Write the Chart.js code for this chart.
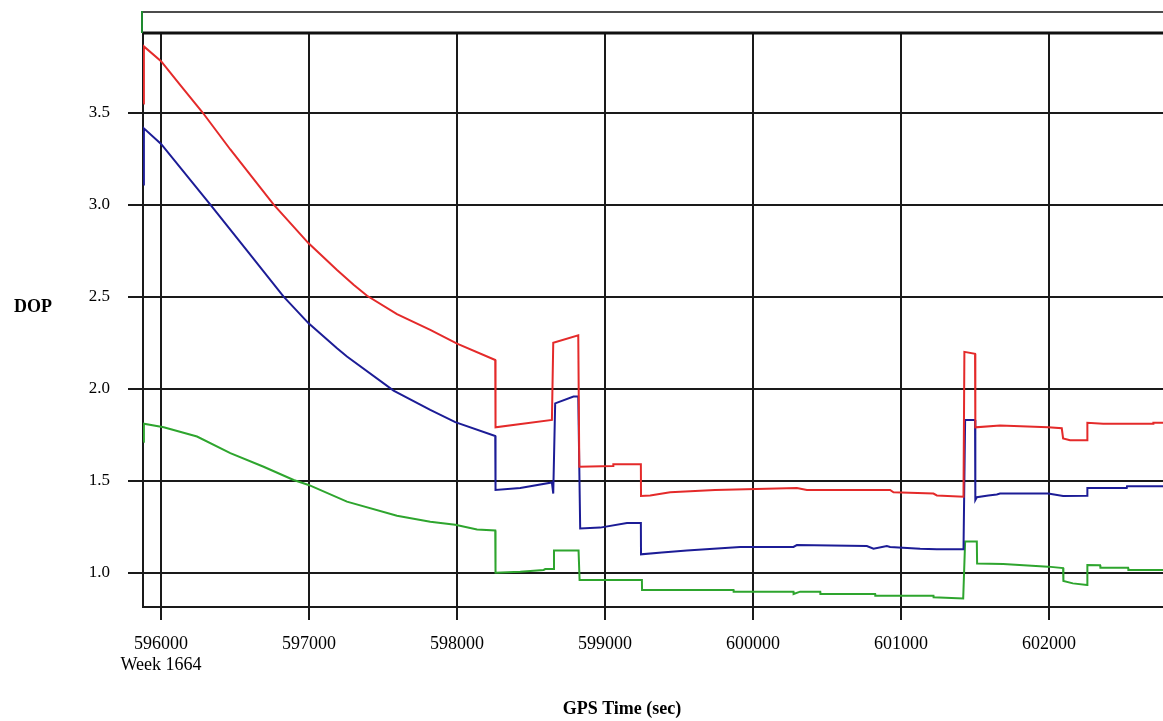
<!DOCTYPE html>
<html>
<head>
<meta charset="utf-8">
<script src="https://cdn.jsdelivr.net/npm/chart.js@4.4.1/dist/chart.umd.min.js"></script>
<style>
  body { margin: 0; background: #fff; }
  #wrap { width: 1163px; height: 721px; }
</style>
</head>
<body>
<div id="wrap"><canvas id="dopChart" width="1163" height="721"></canvas></div>
<script>
// GPS time ticks (sec) and DOP ticks
const xTicks = [596000, 597000, 598000, 599000, 600000, 601000, 602000];
const yTicks = [1.0, 1.5, 2.0, 2.5, 3.0, 3.5];

// red series
const redT = [595880, 595884, 596000, 596130, 596277, 596468, 596761, 596997, 597189, 597301, 597392, 597594, 597819, 598000, 598258,
  598260, 598641, 598650, 598819, 598826, 599055, 599056, 599242, 599243, 599305, 599440, 599743, 600296, 600364,
  600926, 600949, 601219, 601242, 601422, 601428, 601500, 601502, 601669, 601994, 602086, 602095, 602142, 602257,
  602259, 602366, 602703, 602705, 602770];
const redV = [3.55, 3.86, 3.78, 3.65, 3.505, 3.30, 3.00, 2.79, 2.645, 2.565, 2.505, 2.405, 2.32, 2.245, 2.156,
  1.79, 1.83, 2.25, 2.29, 1.576, 1.58, 1.59, 1.59, 1.417, 1.42, 1.437, 1.45, 1.46, 1.45,
  1.45, 1.437, 1.43, 1.42, 1.413, 2.20, 2.19, 1.79, 1.80, 1.79, 1.785, 1.73, 1.72, 1.72,
  1.815, 1.81, 1.81, 1.815, 1.815];

// blue series
const blueT = [595880, 595884, 596000, 596333, 596581, 596828, 596997, 597189, 597256, 597571, 597819, 597988, 598258,
  598260, 598427, 598641, 598650, 598663, 598787, 598819, 598832, 598967, 599148, 599242, 599243, 599384, 599553,
  599733, 599913, 600273, 600296, 600769, 600814, 600904, 600926, 601129, 601242, 601422, 601433, 601500, 601502,
  601512, 601590, 601647, 601669, 601994, 602095, 602257, 602259, 602525, 602527, 602770];
const blueV = [3.11, 3.415, 3.33, 3.00, 2.75, 2.50, 2.355, 2.22, 2.175, 1.99, 1.885, 1.818, 1.743,
  1.45, 1.46, 1.49, 1.43, 1.92, 1.957, 1.957, 1.24, 1.245, 1.27, 1.27, 1.10, 1.11, 1.12,
  1.13, 1.14, 1.14, 1.15, 1.145, 1.13, 1.145, 1.14, 1.13, 1.127, 1.127, 1.83, 1.83, 1.395,
  1.41, 1.42, 1.425, 1.43, 1.43, 1.417, 1.418, 1.46, 1.46, 1.47, 1.47];

// green series
const greenT = [595880, 595884, 596018, 596243, 596468, 596693, 596896, 596997, 597256, 597594, 597819, 597988, 598135,
  598258, 598260, 598427, 598585, 598596, 598652, 598655, 598821, 598828, 599249, 599250, 599868, 599869, 600273,
  600274, 600318, 600454, 600455, 600825, 600826, 601219, 601220, 601420, 601433, 601512, 601514, 601690, 601994,
  602095, 602097, 602161, 602257, 602259, 602345, 602347, 602534, 602536, 602770];
const greenV = [1.712, 1.81, 1.79, 1.74, 1.65, 1.576, 1.504, 1.477, 1.386, 1.31, 1.277, 1.26, 1.235,
  1.23, 1.0, 1.005, 1.015, 1.02, 1.02, 1.12, 1.12, 0.96, 0.96, 0.906, 0.906, 0.897, 0.897,
  0.884, 0.897, 0.897, 0.884, 0.884, 0.875, 0.875, 0.866, 0.86, 1.17, 1.17, 1.05, 1.047, 1.033,
  1.025, 0.955, 0.942, 0.933, 1.042, 1.04, 1.027, 1.027, 1.015, 1.015];

const toPoints = (ts, vs) => ts.map((t, i) => ({ x: t, y: vs[i] }));

const serif = 'Liberation Serif, Times New Roman, serif';

// header strip, left edge and axis titles
const frame = {
  id: 'frame',
  afterDraw(chart) {
    const { ctx, chartArea: a } = chart;
    ctx.save();
    ctx.strokeStyle = '#111';
    ctx.lineWidth = 1.5;
    ctx.beginPath();
    ctx.moveTo(a.left, 12);
    ctx.lineTo(a.right, 12);
    ctx.stroke();
    ctx.lineWidth = 3;
    ctx.beginPath();
    ctx.moveTo(a.left, a.top);
    ctx.lineTo(a.right, a.top);
    ctx.stroke();
    ctx.strokeStyle = '#1e8a2e';
    ctx.lineWidth = 2;
    ctx.beginPath();
    ctx.moveTo(a.left - 1, 11);
    ctx.lineTo(a.left - 1, a.top);
    ctx.stroke();

    ctx.fillStyle = '#000';
    ctx.font = 'bold 18px ' + serif;
    ctx.textAlign = 'center';
    ctx.textBaseline = 'middle';
    ctx.fillText('DOP', 33, 307);
    ctx.fillText('GPS Time (sec)', 622, 709);
    ctx.restore();
  }
};

new Chart(document.getElementById('dopChart'), {
  type: 'line',
  data: {
    datasets: [
      { label: 'PDOP', data: toPoints(redT, redV), borderColor: '#e42a2a' },
      { label: 'HDOP', data: toPoints(blueT, blueV), borderColor: '#1c1c96' },
      { label: 'VDOP', data: toPoints(greenT, greenV), borderColor: '#2ea52e' }
    ]
  },
  options: {
    responsive: false,
    animation: false,
    layout: { padding: { top: 33, left: 0, right: 0, bottom: 0 } },
    elements: {
      point: { radius: 0 },
      line: { borderWidth: 2, tension: 0 }
    },
    plugins: {
      legend: { display: false },
      tooltip: { enabled: false }
    },
    scales: {
      x: {
        type: 'linear',
        min: 595878,
        max: 602770,
        afterBuildTicks: s => { s.ticks = xTicks.map(v => ({ value: v })); },
        afterFit: s => { s.height = 114; },
        ticks: {
          autoSkip: false,
          maxRotation: 0,
          color: '#000',
          padding: 13,
          font: { family: serif, size: 18 },
          callback: v => v === xTicks[0] ? [String(v), 'Week 1664'] : String(v)
        },
        grid: { color: '#1a1a1a', lineWidth: 2, tickLength: 13 },
        border: { color: '#1a1a1a', width: 2 }
      },
      y: {
        min: 0.8136,
        max: 3.933,
        afterBuildTicks: s => { s.ticks = yTicks.map(v => ({ value: v })); },
        afterFit: s => { s.width = 143; },
        ticks: {
          color: '#000',
          padding: 18,
          font: { family: serif, size: 17 },
          callback: v => v.toFixed(1)
        },
        grid: { color: '#1a1a1a', lineWidth: 2, tickLength: 15 },
        border: { color: '#1a1a1a', width: 2 }
      }
    }
  },
  plugins: [frame]
});
</script>
</body>
</html>
